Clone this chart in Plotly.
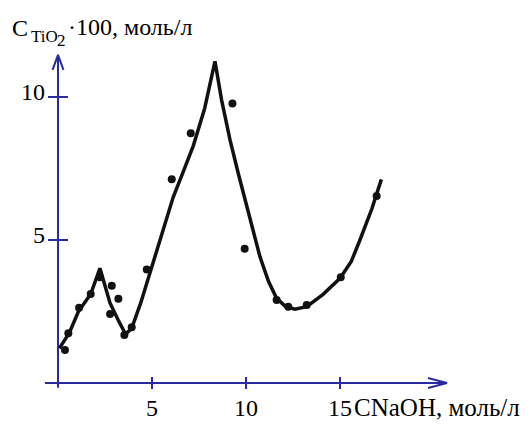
import plotly.graph_objects as go

# ---- data ----
dot_x = [0.37, 0.55, 1.12, 1.74, 2.23, 2.86, 3.21, 2.77, 3.53, 3.92, 4.72,
         6.05, 7.06, 9.28, 9.93, 11.63, 12.25, 13.23, 15.04, 16.95]
dot_y = [1.15, 1.74, 2.63, 3.11, 3.70, 3.40, 2.95, 2.41, 1.68, 1.95, 3.97,
         7.12, 8.73, 9.77, 4.69, 2.90, 2.67, 2.73, 3.70, 6.54]

curve_x = [0.07, 0.6, 1.08, 1.74, 2.23, 2.5, 2.77, 3.2, 3.53, 3.65, 3.92,
           4.4, 4.9, 5.43, 6.13, 6.7, 7.2, 7.8, 8.35, 8.7, 9.15, 9.6,
           10.04, 10.4, 10.74, 11.2, 11.63, 12.1, 12.6, 13.23, 14.1, 15.0,
           15.6, 16.06, 16.7, 17.2]
curve_y = [1.21, 1.75, 2.49, 3.11, 4.01, 3.35, 2.79, 2.2, 1.79, 1.74, 1.91,
           2.8, 3.9, 5.0, 6.5, 7.45, 8.3, 9.6, 11.25, 9.9, 8.5, 7.3,
           6.16, 5.25, 4.42, 3.55, 2.96, 2.68, 2.58, 2.67, 3.1, 3.66,
           4.25, 5.0, 6.1, 7.12]

x_ticks = [5, 10, 15]
y_ticks = [5, 10]
x_tick_labels = ["5", "10", "15"]
y_tick_labels = ["5", "10"]

x_label = "CNaOH, моль/л"
y_label_main = "C"
y_label_sub = "TiO"
y_label_sub2 = "2"
y_label_rest = "·100, моль/л"

# ---- layout geometry ----
W, H = 530, 425
X0PX, XPX = 58, 18.8     # pixel of x=0, pixels per unit
Y0PX, YPX = 383, 28.6    # pixel of y=0, pixels per unit
xr = [-X0PX / XPX, (W - X0PX) / XPX]
yr = [(Y0PX - H) / YPX, Y0PX / YPX]

AX = "#2b2ba0"
FONT = "Times New Roman, Liberation Serif, serif"
BLACK = "#111111"

fig = go.Figure()

# axes (arrows)
x_axis_end = 20.69
y_axis_end = 11.47
fig.add_trace(go.Scatter(x=[-0.69, x_axis_end], y=[0, 0], mode="lines",
                         line=dict(color=AX, width=2), hoverinfo="skip", showlegend=False))
fig.add_trace(go.Scatter(x=[0, 0], y=[-0.17, y_axis_end], mode="lines",
                         line=dict(color=AX, width=2), hoverinfo="skip", showlegend=False))
fig.add_trace(go.Scatter(x=[x_axis_end - 1.01, x_axis_end, x_axis_end - 1.01],
                         y=[0.175, 0, -0.175], mode="lines",
                         line=dict(color=AX, width=2), hoverinfo="skip", showlegend=False))
fig.add_trace(go.Scatter(x=[-0.29, 0, 0.29],
                         y=[y_axis_end - 0.52, y_axis_end, y_axis_end - 0.52], mode="lines",
                         line=dict(color=AX, width=2), hoverinfo="skip", showlegend=False))
# ticks
for t in x_ticks:
    fig.add_trace(go.Scatter(x=[t, t], y=[0.21, -0.21], mode="lines",
                             line=dict(color=AX, width=2), hoverinfo="skip", showlegend=False))
for t in y_ticks:
    fig.add_trace(go.Scatter(x=[-0.53, 0.53], y=[t, t], mode="lines",
                             line=dict(color=AX, width=2), hoverinfo="skip", showlegend=False))

# curve and points
fig.add_trace(go.Scatter(x=curve_x, y=curve_y, mode="lines",
                         line=dict(color=BLACK, width=3.5, shape="linear"),
                         showlegend=False))
fig.add_trace(go.Scatter(x=dot_x, y=dot_y, mode="markers",
                         marker=dict(color=BLACK, size=8), showlegend=False))

ann = []
for t, lab in zip(x_ticks, x_tick_labels):
    ann.append(dict(x=t, y=-0.87, xref="x", yref="y", text=lab, showarrow=False,
                    xanchor="center", yanchor="middle",
                    font=dict(family=FONT, size=24, color="#000")))
for t, lab in zip(y_ticks, y_tick_labels):
    ann.append(dict(x=-0.58, y=t, xref="x", yref="y", text=lab, showarrow=False,
                    xanchor="right", yanchor="middle", yshift=5,
                    font=dict(family=FONT, size=24, color="#000")))
ann.append(dict(x=15.62, y=-0.87, xref="x", yref="y", text=x_label, showarrow=False,
                xanchor="left", yanchor="middle",
                font=dict(family=FONT, size=25, color="#000")))


def px(xp, yp):
    return xp / W, 1 - yp / H


for text, xp, yp, size in [(y_label_main, 10, 28, 24), (y_label_sub, 29, 37, 17),
                           (y_label_sub2, 55, 41, 17), (y_label_rest, 66, 27, 24)]:
    fx, fy = px(xp, yp)
    ann.append(dict(x=fx, y=fy, xref="paper", yref="paper", text=text, showarrow=False,
                    xanchor="left", yanchor="middle",
                    font=dict(family=FONT, size=size, color="#000")))

fig.update_layout(
    width=W, height=H,
    margin=dict(l=0, r=0, t=0, b=0),
    paper_bgcolor="white", plot_bgcolor="white",
    xaxis=dict(range=xr, visible=False, fixedrange=True),
    yaxis=dict(range=yr, visible=False, fixedrange=True),
    annotations=ann,
    showlegend=False,
)

fig.write_html("out.html", config={"displayModeBar": False},
               post_script="document.body.style.margin='0px';document.body.style.padding='0px';")
